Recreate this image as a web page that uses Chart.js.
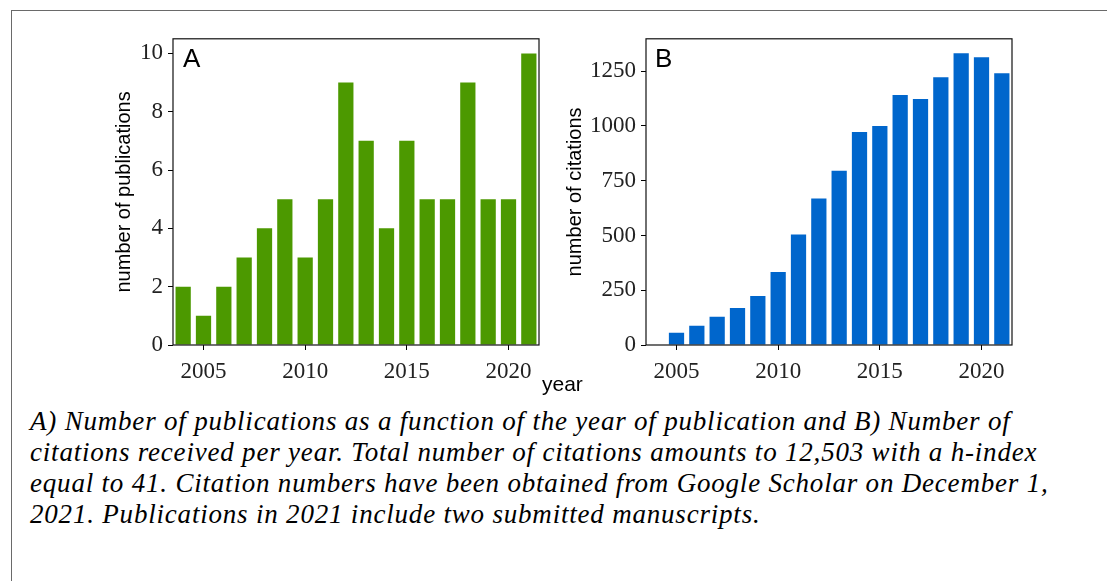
<!DOCTYPE html>
<html>
<head>
<meta charset="utf-8">
<script src="https://cdn.jsdelivr.net/npm/chart.js@4.4.0/dist/chart.umd.min.js"></script>
<style>
  body { margin: 0; background: #fff; width: 1107px; height: 581px; overflow: hidden; position: relative; }
  .frame { position: absolute; left: 11px; top: 10px; right: -5px; bottom: -5px; border-top: 1px solid #6a6a6a; border-left: 1px solid #6a6a6a; }
  .box { position: absolute; }
  #year-label { position: absolute; left: 542px; top: 372px; font: 21px "Liberation Sans", Arial, sans-serif; color: #000; }
  #caption { position: absolute; left: 30px; top: 406px; font: italic 27px "Liberation Serif", "Times New Roman", serif; letter-spacing: 0.8px; line-height: 31px; color: #000; white-space: nowrap; }
</style>
</head>
<body>
<div class="frame"></div>
<div class="box" style="left:90px; top:20px;"><canvas id="chart-publications" width="460" height="375"></canvas></div>
<div class="box" style="left:540px; top:20px;"><canvas id="chart-citations" width="480" height="375"></canvas></div>
<div id="year-label">year</div>
<div id="caption">A) Number of publications as a function of the year of publication and B) Number of<br>citations received per year. Total number of citations amounts to 12,503 with a h-index<br>equal to 41. Citation numbers have been obtained from Google Scholar on December 1,<br>2021. Publications in 2021 include two submitted manuscripts.</div>
<script>
const years = [2004, 2005, 2006, 2007, 2008, 2009, 2010, 2011, 2012,
    2013, 2014, 2015, 2016, 2017, 2018, 2019, 2020, 2021];
const publications = [2, 1, 2, 3, 4, 5, 3, 5, 9, 7, 4, 7, 5, 5, 9, 5, 5, 10];
const citations = [0, 56, 88, 129, 169, 224, 333, 505, 669, 796, 973,
    1000, 1141, 1123, 1223, 1332, 1314, 1241];
const xTickYears = [2005, 2010, 2015, 2020];

/*
 * Draws the full box round the plot area and the panel letter
 */
const framePlugin = {
    id: 'frame',
    afterDraw(chart, args, opts){
        const area = chart.chartArea;
        const ctx = chart.ctx;
        ctx.save();
        ctx.strokeStyle = '#111';
        ctx.lineWidth = 1.2;
        ctx.strokeRect(area.left, area.top, area.right - area.left, area.bottom - area.top);
        ctx.fillStyle = '#000';
        ctx.font = '26px "Liberation Sans", Arial, sans-serif';
        ctx.textBaseline = 'alphabetic';
        ctx.fillText(opts.letter, area.left + opts.letterX, area.top + 28);
        ctx.restore();
    }
};

function makeBarChart(canvasId, values, color, yTitle, yMax, yStep, axisWidth, titlePad, rightPad, letter, letterX){
    const canvas = document.getElementById(canvasId);
    const tickFont = { family: '"Liberation Serif", "Times New Roman", serif', size: 23 };

    new Chart(canvas, {
        type: 'bar',
        data: {
            labels: years,
            datasets: [{
                data: values,
                backgroundColor: color,
                borderWidth: 0,
                barPercentage: 0.75,
                categoryPercentage: 1
            }]
        },
        options: {
            responsive: false,
            animation: false,
            layout: { padding: { top: 17, right: rightPad, left: 0, bottom: 0 } },
            plugins: {
                legend: { display: false },
                tooltip: { enabled: false },
                frame: { letter: letter, letterX: letterX }
            },
            scales: {
                x: {
                    offset: true,
                    grid: { offset: false, drawOnChartArea: false, tickLength: 5, color: '#000', lineWidth: 1 },
                    border: { display: false },
                    ticks: {
                        autoSkip: false,
                        maxRotation: 0,
                        padding: 8,
                        color: '#222',
                        font: tickFont,
                        callback: function(value, index){
                            const year = years[index];
                            return xTickYears.includes(year) ? String(year) : null;
                        }
                    },
                    afterFit: function(scale){ scale.height = 50; }
                },
                y: {
                    min: 0,
                    max: yMax,
                    grid: { drawOnChartArea: false, tickLength: 5, color: '#000', lineWidth: 1 },
                    border: { display: false },
                    ticks: {
                        stepSize: yStep,
                        includeBounds: false,
                        padding: 5,
                        color: '#222',
                        font: tickFont,
                        callback: function(value){ return String(value); }
                    },
                    title: {
                        display: true,
                        text: yTitle,
                        color: '#000',
                        font: { family: '"Liberation Sans", Arial, sans-serif', size: 20 },
                        padding: { top: titlePad, bottom: 0 }
                    },
                    afterFit: function(scale){ scale.width = axisWidth; }
                }
            }
        },
        plugins: [framePlugin]
    });
}

makeBarChart('chart-publications', publications, '#4c9900', 'number of publications', 10.5, 2, 83, 22, 11, 'A', 10);
makeBarChart('chart-citations', citations, '#0066cc', 'number of citations', 1398, 250, 106, 23, 8, 'B', 9);
</script>
</body>
</html>
